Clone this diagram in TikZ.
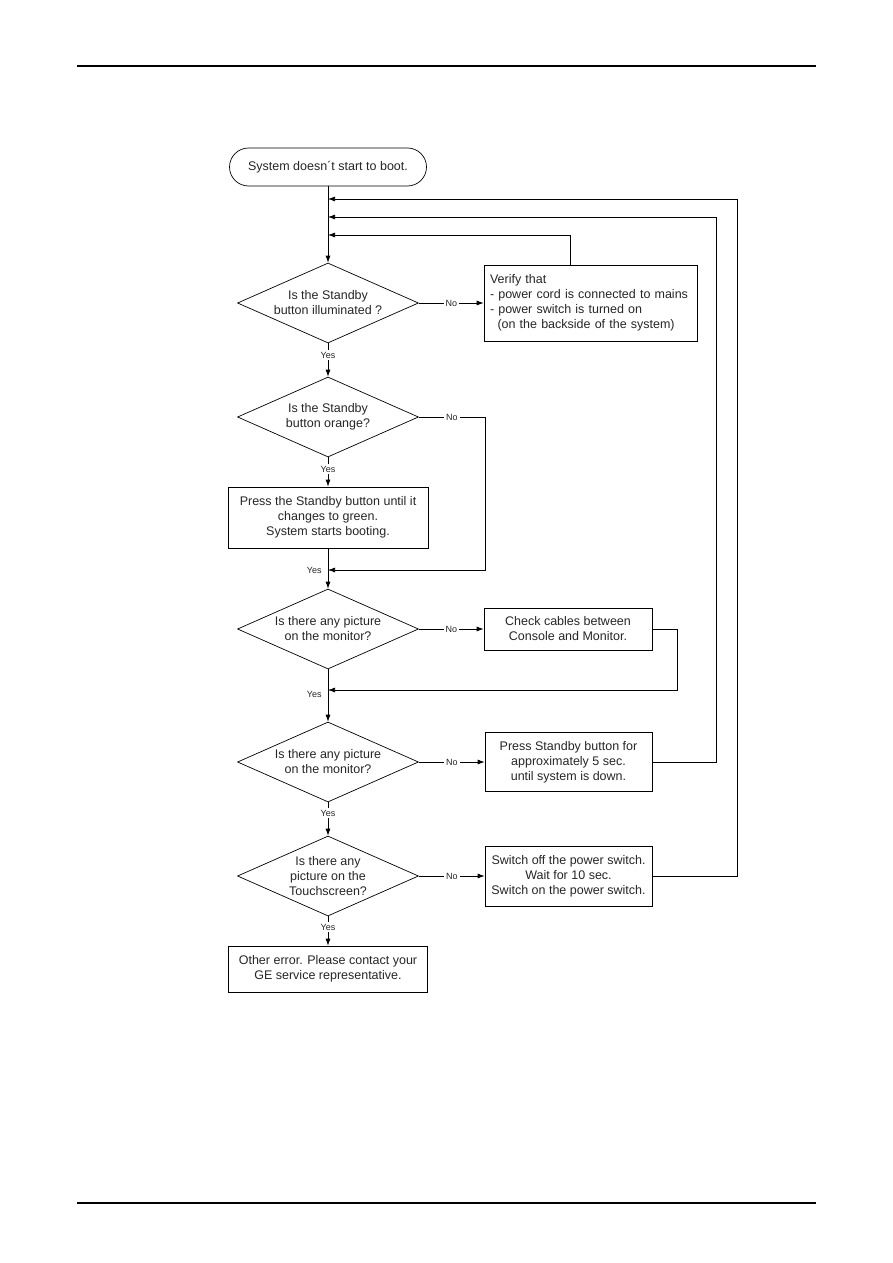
\documentclass[tikz,border=0pt]{standalone}
\usepackage{fontspec}
\setmainfont{Liberation Sans}
\usetikzlibrary{shapes.geometric,arrows.meta}

\begin{document}
\begin{tikzpicture}[x=1pt, y=-1pt, line width=0.7pt,
    every node/.style={font=\fontsize{12.5}{15}\selectfont, align=center, text=black!85},
    box/.style={draw, rectangle, inner sep=0pt},
    decision/.style={draw, diamond, inner sep=0pt, aspect=2.26, minimum width=181, minimum height=80},
    lbl/.style={fill=white, font=\fontsize{9}{10}\selectfont, inner sep=2pt},
    arr/.style={-{Latex[length=7,width=5]}}]
  \useasboundingbox (0,0) rectangle (893,1263);
  % page rules
  \draw[line width=1.2pt] (77,66) -- (816,66);
  \draw[line width=1.2pt] (77,1203) -- (816,1203);
  % main column
  \node[box, rounded corners=19, minimum width=197, minimum height=38] (start) at (328,167) {System doesn´t start to boot.};
  \node[decision] (q1) at (328,303) {Is the Standby\\button illuminated ?};
  \node[decision] (q2) at (328,417) {Is the Standby\\button orange?};
  \node[box, minimum width=200, minimum height=61] (b2) at (328,517.5) {Press the Standby button until it\\changes to green.\\System starts booting.};
  \node[decision] (q3) at (328,629) {Is there any picture\\on the monitor?};
  \node[decision] (q4) at (328,762) {Is there any picture\\on the monitor?};
  \node[decision] (q5) at (328,876) {Is there any\\picture on the\\Touchscreen?};
  \node[box, minimum width=199, minimum height=46] (b6) at (328,969) {Other error. Please contact your\\GE service representative.};
  % right column
  \node[box, minimum height=76, text width=201, inner xsep=6, align=left] (b1) at (590.5,303) {Verify that\\- power cord is connected to mains\\- power switch is turned on\\\hspace*{0.6em}(on the backside of the system)};
  \node[box, minimum width=168, minimum height=42] (b3) at (568,629) {Check cables between\\Console and Monitor.};
  \node[box, minimum width=167, minimum height=59] (b4) at (568.5,762) {Press Standby button for\\approximately 5 sec.\\until system is down.};
  \node[box, minimum width=167, minimum height=60] (b5) at (568.5,876) {Switch off the power switch.\\Wait for 10 sec.\\Switch on the power switch.};
  % junctions on the main line
  \coordinate (r1) at (328,199);
  \coordinate (r2) at (328,217);
  \coordinate (r3) at (328,235);
  \coordinate (k1) at (570,235);
  \coordinate (j1) at (328,570);
  \coordinate (j2) at (328,690);
  % flow
  \draw[arr] (start.south) -- (q1.north);
  \draw[arr] (q1.east) -- node[lbl] {No} (b1.west);
  \draw[arr] (b1.north -| k1) |- (r3);
  \draw[arr] (q1.south) -- node[lbl, pos=0.35] {Yes} (q2.north);
  \draw[arr] (q2.east) -- node[lbl] {No} ++(66,0) |- (j1);
  \draw[arr] (q2.south) -- node[lbl, pos=0.4] {Yes} (b2.north);
  \draw[arr] (b2.south) -- (q3.north);
  \node[lbl, left=4pt] (y3) at (j1) {Yes};
  \draw[arr] (q3.east) -- node[lbl] {No} (b3.west);
  \draw[arr] (b3.east) -- ++(25,0) |- (j2);
  \draw[arr] (q3.south) -- (q4.north);
  \node[lbl, left=4pt] (y4) at ([yshift=-4pt]j2) {Yes};
  \draw[arr] (q4.east) -- node[lbl] {No} (b4.west);
  \draw[arr] (b4.east) -- ++(64,0) |- (r2);
  \draw[arr] (q4.south) -- node[lbl, pos=0.33] {Yes} (q5.north);
  \draw[arr] (q5.east) -- node[lbl] {No} (b5.west);
  \draw[arr] (b5.east) -- ++(85,0) |- (r1);
  \draw[arr] (q5.south) -- node[lbl, pos=0.37] {Yes} (b6.north);
\end{tikzpicture}
\end{document}
